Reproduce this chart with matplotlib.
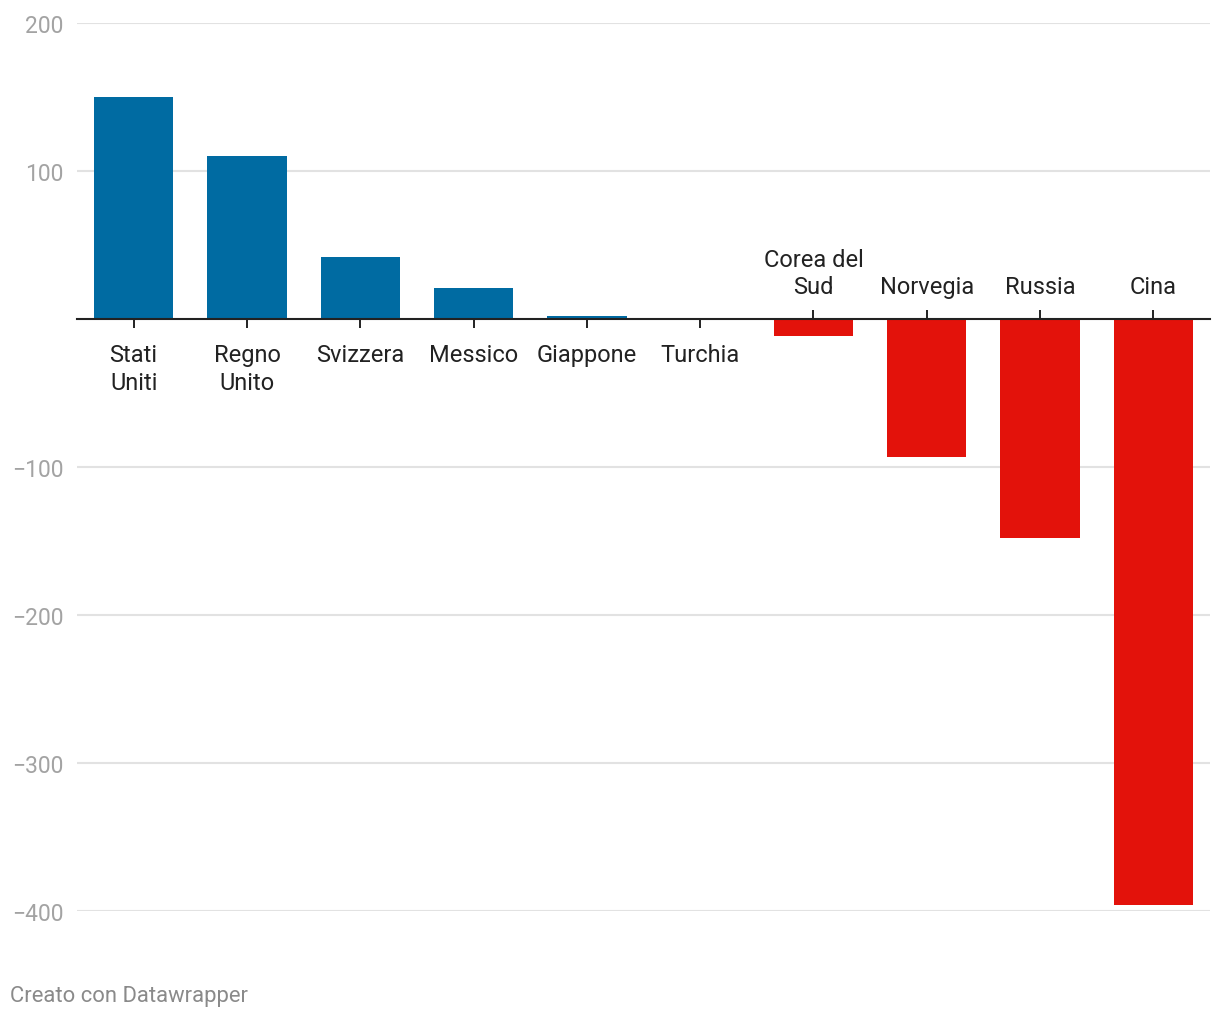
import matplotlib
matplotlib.use("Agg")
import matplotlib.pyplot as plt
import matplotlib.lines as mlines

plt.rcParams['font.family'] = ['Roboto', 'DejaVu Sans']

categories = ["Stati\nUniti", "Regno\nUnito", "Svizzera", "Messico", "Giappone",
              "Turchia", "Corea del\nSud", "Norvegia", "Russia", "Cina"]
values = [150, 110, 42, 21, 2, 0, -11.5, -93, -148, -396]
yticks = [200, 100, -100, -200, -300, -400]
ytick_labels = ["200", "100", "\u2212100", "\u2212200", "\u2212300", "\u2212400"]

BLUE = "#006ba2"
RED = "#e3120b"
GRID = "#e2e2e2"
TICKTXT = "#a3a3a3"

fig = plt.figure(figsize=(12.2, 10.2), dpi=100)
ax = fig.add_axes([77/1220, 1-912/1020, (1210-77)/1220, (912-24)/1020])

x = list(range(len(categories)))
colors = [BLUE if v >= 0 else RED for v in values]
ax.bar(x, values, width=0.7, color=colors, zorder=2)

ax.set_xlim(-0.5, len(categories) - 0.5)
ax.set_ylim(-400, 200)

for s in ["top", "right", "left"]:
    ax.spines[s].set_visible(False)
ax.spines["bottom"].set_position(("data", 0))
ax.spines["bottom"].set_color("#222222")
ax.spines["bottom"].set_linewidth(1.5)
ax.spines["bottom"].set_zorder(3)

ax.set_yticks(yticks)
ax.set_yticklabels(ytick_labels)
ax.tick_params(axis="y", length=0, pad=9.5, labelsize=16.5, labelcolor=TICKTXT)
ax.yaxis.grid(True, color=GRID, linewidth=1.5, zorder=0)

ax.set_xticks(x)
ax.set_xticklabels([])
ax.tick_params(axis="x", direction="out", length=6.5, width=1.4, color="#222222")
for tick, v in zip(ax.xaxis.get_major_ticks(), values):
    if v < 0:
        tick.tick1line.set_marker(mlines.TICKUP)

for xi, lab, v in zip(x, categories, values):
    if v >= 0:
        ax.annotate(lab, xy=(xi, 0), xytext=(0, -17.5), textcoords="offset points",
                    ha="center", va="top", fontsize=17, color="#222222",
                    linespacing=1.25, multialignment="center")
    else:
        ax.annotate(lab, xy=(xi, 0), xytext=(0, 15), textcoords="offset points",
                    ha="center", va="bottom", fontsize=17, color="#222222",
                    linespacing=1.25, multialignment="center")

fig.text(10/1220, 1-997/1020, "Creato con Datawrapper", ha="left", va="center",
         fontsize=15.8, color="#8a8a8a")

fig.savefig("out.png", dpi=100, facecolor="white")
